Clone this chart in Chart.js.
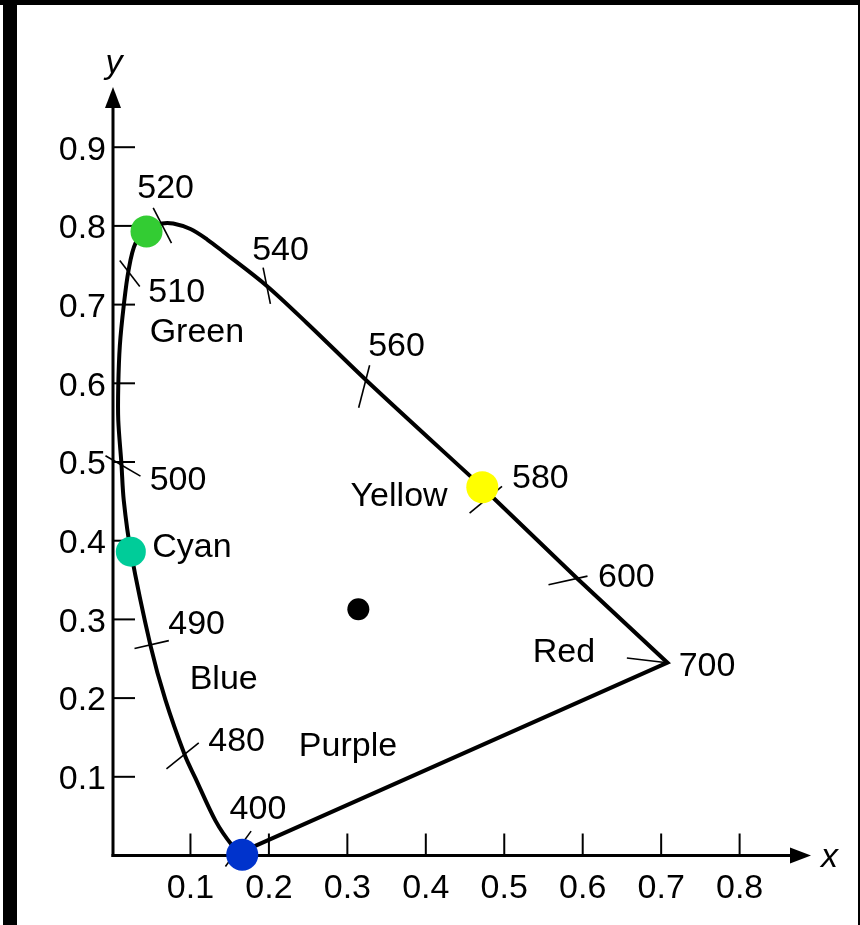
<!DOCTYPE html>
<html>
<head>
<meta charset="utf-8">
<script src="https://cdn.jsdelivr.net/npm/chart.js@4.4.1/dist/chart.umd.min.js"></script>
<style>
html,body{margin:0;padding:0;background:#fff;}
canvas{display:block;}
</style>
</head>
<body>
<canvas id="c" width="860" height="925"></canvas>
<script>
// ---- Data (chromaticity coordinates) ----
// spectral locus, curved part: 400 nm -> 580 nm
const locusCurveX = [0.164,0.153,0.132,0.106,0.093,0.068,0.049,0.024,0.015,0.012,0.008,0.008,0.010,0.015,0.021,0.030,0.046,0.064,0.078,0.100,0.121,0.142,0.197,0.249,0.325,0.472];
const locusCurveY = [0.004,0.013,0.044,0.099,0.127,0.198,0.267,0.386,0.451,0.498,0.553,0.597,0.648,0.699,0.743,0.778,0.795,0.803,0.803,0.796,0.783,0.767,0.724,0.676,0.603,0.468];
// straight part: 580 -> 600 -> 700 -> back to 400 (line of purples)
const locusStraightX = [0.472,0.593,0.708,0.164];
const locusStraightY = [0.468,0.352,0.245,0.004];

// coloured reference points
const markerNames  = ['Green','Cyan','Yellow','Blue','White'];
const markerX      = [0.044,0.024,0.472,0.166,0.314];
const markerY      = [0.793,0.386,0.468,0.001,0.313];
const markerColors = ['#33CC33','#00CC99','#FFFF00','#0033CC','#000000'];
const markerRadius = [16,15,16,16,11];

// wavelength tick marks on the locus (two end points each)
const tickWavelengths = [400,480,490,500,510,520,540,560,580,600,700];
const tickX1 = [0.1446,0.0694,0.0287,-0.0083,0.0099,0.0525,0.1926,0.3284,0.4558,0.5564,0.6563];
const tickY1 = [-0.014,0.110,0.263,0.508,0.756,0.823,0.747,0.623,0.435,0.344,0.251];
const tickX2 = [0.1773,0.1106,0.0724,0.0363,0.0354,0.0758,0.2019,0.3144,0.4971,0.6061,0.7076];
const tickY2 = [0.031,0.143,0.273,0.482,0.723,0.778,0.701,0.569,0.469,0.355,0.245];

// annotation texts anchored in data coordinates (left, baseline)
const annTexts = ['520','540','510','Green','560','500','Yellow','580','Cyan','600','490','Red','700','Blue','480','Purple','400'];
const annX = [0.0341,0.1806,0.0482,0.0499,0.3284,0.0499,0.3060,0.5118,0.0532,0.6214,0.0736,0.5382,0.7242,0.1009,0.1246,0.2401,0.1518];
const annY = [0.835,0.757,0.703,0.652,0.635,0.465,0.4435,0.467,0.379,0.341,0.2817,0.2465,0.2287,0.2118,0.1325,0.1258,0.0466];

// axis ticks
const xTickValues = [0.1,0.2,0.3,0.4,0.5,0.6,0.7,0.8];
const yTickValues = [0.1,0.2,0.3,0.4,0.5,0.6,0.7,0.8,0.9];
const xAxisMax = 0.891;
const yAxisMax = 0.9765;

// ---- build datasets ----
const zip = (xs, ys) => xs.map((x, i) => ({x: x, y: ys[i]}));
const FONT = '"Liberation Sans", Arial, Helvetica, sans-serif';

const datasets = [];
datasets.push({
  label: 'markers',
  data: zip(markerX, markerY),
  pointRadius: markerRadius,
  pointBackgroundColor: markerColors,
  pointBorderWidth: 0,
  pointBorderColor: markerColors,
  showLine: false,
  order: 0,
  clip: false
});
datasets.push({
  label: 'locus',
  data: zip(locusCurveX, locusCurveY),
  showLine: true,
  borderColor: '#000',
  borderWidth: 4,
  tension: 0.32,
  pointRadius: 0,
  borderCapStyle: 'round',
  borderJoinStyle: 'round',
  order: 1,
  clip: false
});
datasets.push({
  label: 'locus-straight',
  data: zip(locusStraightX, locusStraightY),
  showLine: true,
  borderColor: '#000',
  borderWidth: 4,
  tension: 0,
  pointRadius: 0,
  borderCapStyle: 'round',
  borderJoinStyle: 'miter',
  order: 1,
  clip: false
});
tickWavelengths.forEach((w, i) => {
  datasets.push({
    label: 'tick ' + w,
    data: [{x: tickX1[i], y: tickY1[i]}, {x: tickX2[i], y: tickY2[i]}],
    showLine: true,
    borderColor: '#000',
    borderWidth: 1.6,
    tension: 0,
    pointRadius: 0,
    order: 2,
    clip: false
  });
});

const framePlugin = {
  id: 'frame',
  beforeDraw(chart) {
    const ctx = chart.ctx;
    ctx.save();
    ctx.fillStyle = '#fff';
    ctx.fillRect(0, 0, chart.width, chart.height);
    ctx.fillStyle = '#000';
    ctx.fillRect(0, 0, chart.width, 5);      // top band
    ctx.fillRect(3, 0, 14, chart.height);    // left band
    ctx.fillRect(858, 0, 2, chart.height);   // right band
    ctx.restore();
  },
  beforeDatasetsDraw(chart) {
    const ctx = chart.ctx;
    const xs = chart.scales.x, ys = chart.scales.y;
    const ax = xs.getPixelForValue(0) + 1;   // y-axis line position
    const ay = ys.getPixelForValue(0);       // x-axis line position
    const topTip = ys.getPixelForValue(yAxisMax);
    const rightTip = xs.getPixelForValue(xAxisMax);
    ctx.save();
    ctx.strokeStyle = '#000';
    ctx.fillStyle = '#000';
    ctx.lineWidth = 3;
    ctx.lineCap = 'butt';
    // y axis
    ctx.beginPath();
    ctx.moveTo(ax, ay + 1.5);
    ctx.lineTo(ax, topTip + 18);
    ctx.stroke();
    // x axis
    ctx.beginPath();
    ctx.moveTo(ax - 1.5, ay);
    ctx.lineTo(rightTip - 19, ay);
    ctx.stroke();
    // arrow heads
    ctx.beginPath();
    ctx.moveTo(ax, topTip);
    ctx.lineTo(ax - 8, topTip + 21);
    ctx.lineTo(ax + 8, topTip + 21);
    ctx.closePath();
    ctx.fill();
    ctx.beginPath();
    ctx.moveTo(rightTip, ay);
    ctx.lineTo(rightTip - 21, ay - 8);
    ctx.lineTo(rightTip - 21, ay + 8);
    ctx.closePath();
    ctx.fill();
    // inward tick marks
    ctx.lineWidth = 2;
    xTickValues.forEach(v => {
      const p = xs.getPixelForValue(v);
      ctx.beginPath();
      ctx.moveTo(p, ay);
      ctx.lineTo(p, ay - 22);
      ctx.stroke();
    });
    yTickValues.forEach(v => {
      const p = ys.getPixelForValue(v);
      ctx.beginPath();
      ctx.moveTo(ax, p);
      ctx.lineTo(ax + 22, p);
      ctx.stroke();
    });
    // axis names
    ctx.font = 'italic 34px ' + FONT;
    ctx.textAlign = 'center';
    ctx.textBaseline = 'alphabetic';
    ctx.fillText('y', ax + 1, topTip - 14);
    ctx.textAlign = 'left';
    ctx.fillText('x', rightTip + 10, ay + 11);
    ctx.restore();
  },
  afterDatasetsDraw(chart) {
    const ctx = chart.ctx;
    const xs = chart.scales.x, ys = chart.scales.y;
    ctx.save();
    ctx.fillStyle = '#000';
    ctx.font = '34px ' + FONT;
    ctx.textAlign = 'left';
    ctx.textBaseline = 'alphabetic';
    annTexts.forEach((t, i) => {
      ctx.fillText(t, xs.getPixelForValue(annX[i]) - 1.5, ys.getPixelForValue(annY[i]));
    });
    ctx.restore();
  }
};

new Chart(document.getElementById('c'), {
  type: 'scatter',
  data: { datasets: datasets },
  options: {
    responsive: false,
    animation: false,
    events: [],
    layout: { padding: { left: 0, top: 87, right: 49, bottom: 0 } },
    plugins: { legend: { display: false }, tooltip: { enabled: false } },
    scales: {
      x: {
        type: 'linear',
        min: 0,
        max: xAxisMax,
        afterFit(scale) { scale.height = 69.5; },
        afterBuildTicks(scale) { scale.ticks = xTickValues.map(v => ({value: v})); },
        grid: { display: false, drawTicks: false },
        border: { display: false },
        ticks: {
          padding: 13,
          color: '#000',
          font: { family: FONT, size: 34 },
          maxRotation: 0,
          autoSkip: false,
          callback: v => Number(v).toFixed(1)
        }
      },
      y: {
        type: 'linear',
        min: 0,
        max: yAxisMax,
        afterFit(scale) { scale.width = 112; },
        afterBuildTicks(scale) { scale.ticks = yTickValues.map(v => ({value: v})); },
        grid: { display: false, drawTicks: false },
        border: { display: false },
        ticks: {
          padding: 6,
          color: '#000',
          font: { family: FONT, size: 34 },
          autoSkip: false,
          labelOffset: 3,
          callback: v => Number(v).toFixed(1)
        }
      }
    }
  },
  plugins: [framePlugin]
});
</script>
</body>
</html>
